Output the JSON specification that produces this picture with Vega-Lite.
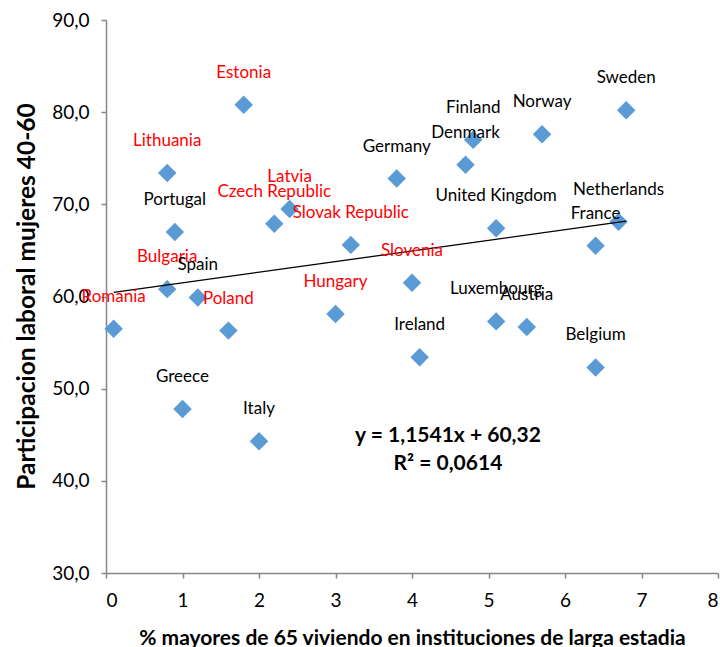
{
  "$schema": "https://vega.github.io/schema/vega-lite/v6.json",
  "width": 612,
  "height": 553,
  "autosize": {"type": "none"},
  "padding": {"left": 106, "top": 20, "right": 2, "bottom": 74},
  "background": "white",
  "config": {
    "view": {"stroke": null},
    "font": "Lato",
    "axis": {
      "grid": false,
      "domainColor": "#868686",
      "domainWidth": 1.5,
      "tickColor": "#868686",
      "tickWidth": 1.5,
      "tickSize": 5,
      "labelFont": "Lato",
      "labelFontSize": 19,
      "labelColor": "#000000",
      "titleFont": "Lato",
      "titleColor": "#000000",
      "titleFontWeight": "bold"
    }
  },
  "datasets": {
    "paises": [
      {"pais": "Estonia", "inst": 1.8, "part": 80.8, "grupo": "Este"},
      {"pais": "Lithuania", "inst": 0.8, "part": 73.4, "grupo": "Este"},
      {"pais": "Latvia", "inst": 2.4, "part": 69.5, "grupo": "Este"},
      {"pais": "Czech Republic", "inst": 2.2, "part": 67.9, "grupo": "Este"},
      {"pais": "Slovak Republic", "inst": 3.2, "part": 65.6, "grupo": "Este"},
      {"pais": "Bulgaria", "inst": 0.8, "part": 60.8, "grupo": "Este"},
      {"pais": "Romania", "inst": 0.1, "part": 56.5, "grupo": "Este"},
      {"pais": "Poland", "inst": 1.6, "part": 56.3, "grupo": "Este"},
      {"pais": "Hungary", "inst": 3.0, "part": 58.1, "grupo": "Este"},
      {"pais": "Slovenia", "inst": 4.0, "part": 61.5, "grupo": "Este"},
      {"pais": "Portugal", "inst": 0.9, "part": 67.0, "grupo": "Oeste"},
      {"pais": "Spain", "inst": 1.2, "part": 59.9, "grupo": "Oeste"},
      {"pais": "Greece", "inst": 1.0, "part": 47.8, "grupo": "Oeste"},
      {"pais": "Italy", "inst": 2.0, "part": 44.3, "grupo": "Oeste"},
      {"pais": "Germany", "inst": 3.8, "part": 72.8, "grupo": "Oeste"},
      {"pais": "Denmark", "inst": 4.7, "part": 74.3, "grupo": "Oeste"},
      {"pais": "Finland", "inst": 4.8, "part": 77.0, "grupo": "Oeste"},
      {"pais": "Norway", "inst": 5.7, "part": 77.6, "grupo": "Oeste"},
      {"pais": "Sweden", "inst": 6.8, "part": 80.2, "grupo": "Oeste"},
      {"pais": "Netherlands", "inst": 6.7, "part": 68.1, "grupo": "Oeste"},
      {"pais": "France", "inst": 6.4, "part": 65.5, "grupo": "Oeste"},
      {"pais": "United Kingdom", "inst": 5.1, "part": 67.4, "grupo": "Oeste"},
      {"pais": "Luxembourg", "inst": 5.1, "part": 57.3, "grupo": "Oeste"},
      {"pais": "Austria", "inst": 5.5, "part": 56.7, "grupo": "Oeste"},
      {"pais": "Ireland", "inst": 4.1, "part": 53.4, "grupo": "Oeste"},
      {"pais": "Belgium", "inst": 6.4, "part": 52.3, "grupo": "Oeste"}
    ],
    "tendencia": [
      {"inst": 0.1, "part": 60.44},
      {"inst": 6.8, "part": 68.17}
    ],
    "ecuacion": [
      {"inst": 4.47, "part": 44.83, "texto": "y = 1,1541x + 60,32"},
      {"inst": 4.47, "part": 41.79, "texto": "R² = 0,0614"}
    ]
  },
  "encoding": {
    "x": {
      "field": "inst",
      "type": "quantitative",
      "scale": {"domain": [0, 8], "nice": false, "zero": true},
      "axis": {
        "title": "%  mayores de 65 viviendo en instituciones de larga estadia",
        "values": [0, 1, 2, 3, 4, 5, 6, 7, 8],
        "format": "d",
        "labelPadding": 13,
        "titleFontSize": 21,
        "titleBaseline": "middle",
        "titleY": 65
      }
    },
    "y": {
      "field": "part",
      "type": "quantitative",
      "scale": {"domain": [30, 90], "nice": false, "zero": false},
      "axis": {
        "title": "Participacion laboral mujeres 40-60",
        "values": [30, 40, 50, 60, 70, 80, 90],
        "labelExpr": "replace(format(datum.value, '.1f'), '.', ',')",
        "labelPadding": 12,
        "titleFontSize": 24.5,
        "titleAngle": -90,
        "titleAlign": "center",
        "titleBaseline": "middle",
        "titleX": -79,
        "titleY": 276
      }
    }
  },
  "layer": [
    {
      "data": {"name": "paises"},
      "mark": {"type": "point", "shape": "diamond", "filled": true, "size": 340, "color": "#5B9BD5", "opacity": 1}
    },
    {
      "data": {"name": "tendencia"},
      "mark": {"type": "line", "color": "#000000", "strokeWidth": 1.3},
      "encoding": {}
    },
    {
      "data": {"name": "paises"},
      "mark": {"type": "text", "dy": -32, "fontSize": 17, "font": "Lato", "align": "center", "baseline": "middle"},
      "encoding": {
        "text": {"field": "pais"},
        "color": {
          "field": "grupo",
          "type": "nominal",
          "scale": {"domain": ["Este", "Oeste"], "range": ["#FF0000", "#000000"]},
          "legend": null
        }
      }
    },
    {
      "data": {"name": "ecuacion"},
      "mark": {"type": "text", "fontSize": 21, "fontWeight": "bold", "font": "Lato", "align": "center", "baseline": "middle", "color": "#000000"},
      "encoding": {"text": {"field": "texto"}}
    }
  ]
}
